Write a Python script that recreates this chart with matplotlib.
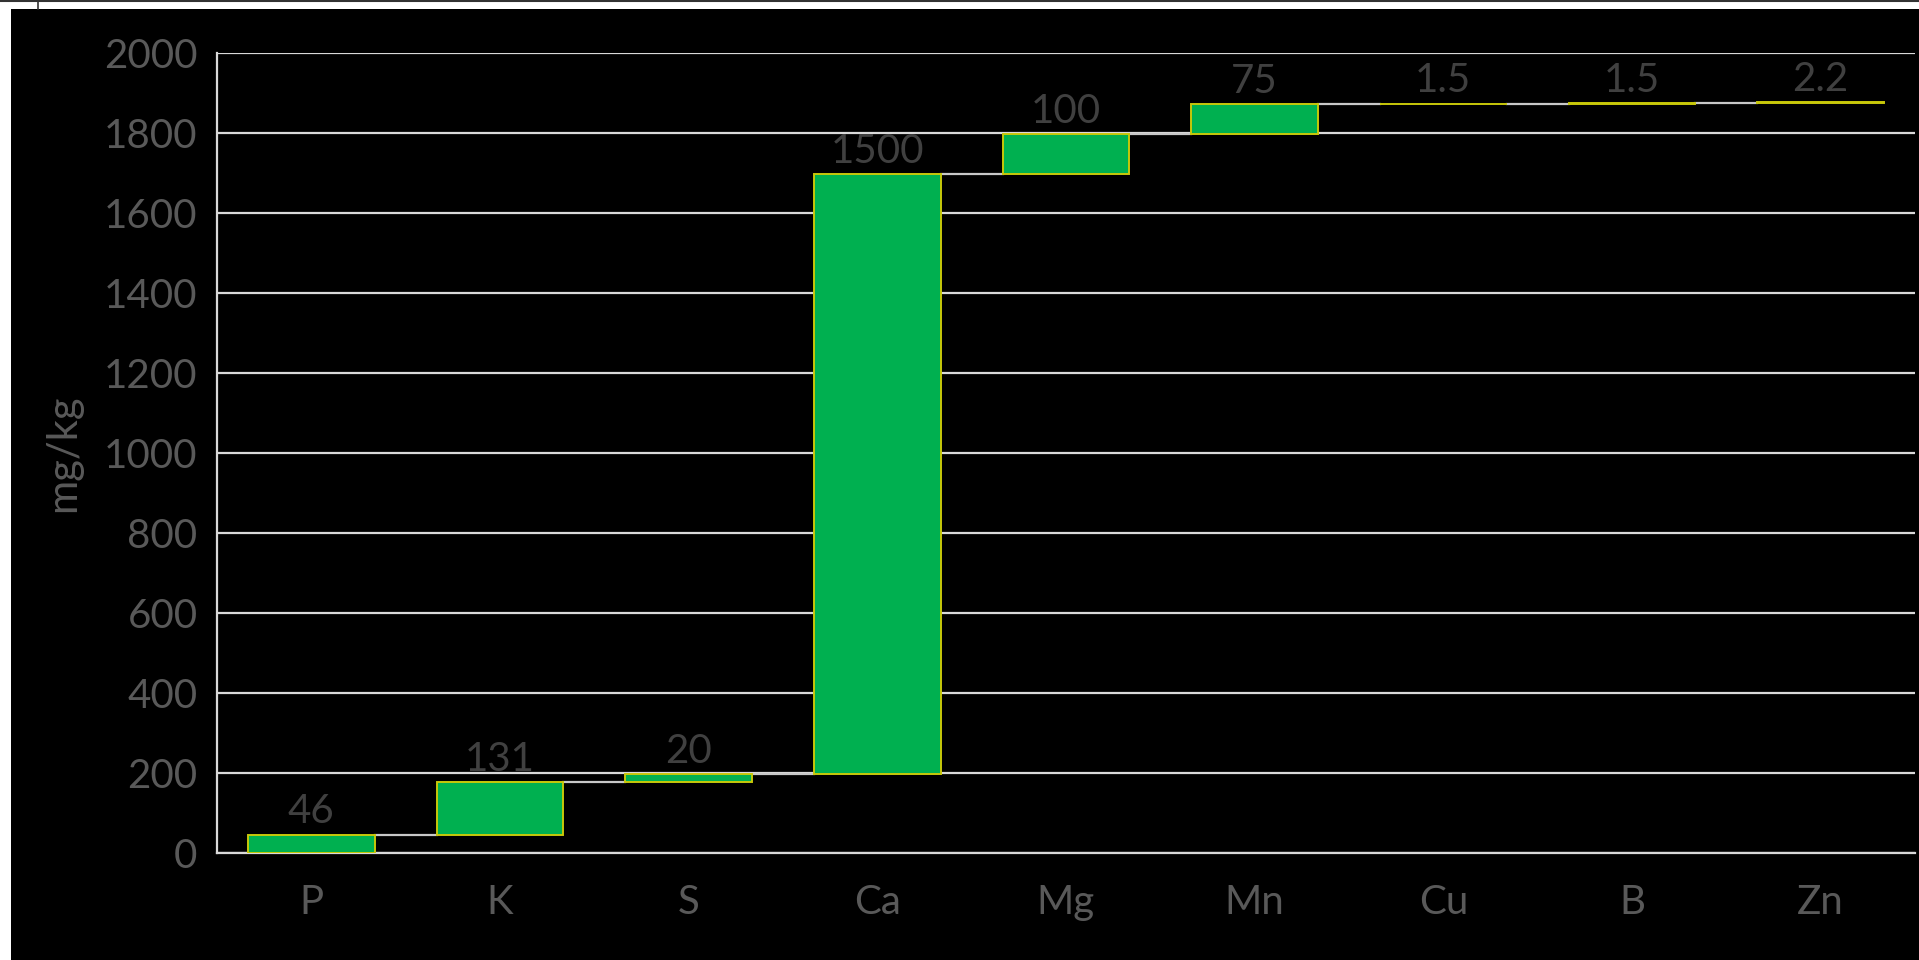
import matplotlib
matplotlib.use("Agg")
import numpy as np
import matplotlib.pyplot as plt
from matplotlib.patches import Rectangle
from matplotlib.lines import Line2D

nutrients = ["P", "K", "S", "Ca", "Mg", "Mn", "Cu", "B", "Zn"]
amounts = [46, 131, 20, 1500, 100, 75, 1.5, 1.5, 2.2]
amount_labels = ["46", "131", "20", "1500", "100", "75", "1.5", "1.5", "2.2"]
y_ticks = [0, 200, 400, 600, 800, 1000, 1200, 1400, 1600, 1800, 2000]

plt.rcParams["font.family"] = ["Lato", "DejaVu Sans"]

W, H = 1919, 960
fig = plt.figure(figsize=(W / 100, H / 100), dpi=100, facecolor="white")

# black panel with a thin frame line and a small mark along the top
fig.patches.append(Rectangle((11 / W, 0), 1 - 11 / W, 1 - 9 / H,
                             transform=fig.transFigure, facecolor="black",
                             edgecolor="none", zorder=-5))
fig.lines.append(Line2D([0, 1], [1 - 1 / H, 1 - 1 / H], transform=fig.transFigure,
                        color="#333333", lw=1.5, zorder=-4))
fig.lines.append(Line2D([38 / W, 38 / W], [1, 1 - 9 / H], transform=fig.transFigure,
                        color="#333333", lw=1.2, zorder=-4))

ax = fig.add_axes([217 / W, 1 - 853 / H, (1915 - 217) / W, (853 - 53) / H])
ax.set_facecolor("black")

x = np.arange(len(nutrients))
ends = np.cumsum(amounts)
starts = ends - np.array(amounts)
bar_w = 0.67

ax.set_axisbelow(True)
ax.yaxis.grid(True, color="#d9d9d9", lw=1.6)
ax.bar(x, amounts, bottom=starts, width=bar_w, color="#00b050",
       edgecolor="#c8c80a", linewidth=1.4, zorder=3)

# connectors between consecutive bars
for i in range(len(x) - 1):
    ax.plot([x[i] + bar_w / 2, x[i + 1] - bar_w / 2], [ends[i], ends[i]],
            color="#c8c8c8", lw=1.6, zorder=2)

for xi, top, lab in zip(x, ends, amount_labels):
    ax.annotate(lab, (xi, top), xytext=(0, 3), textcoords="offset points",
                ha="center", va="bottom", fontsize=29, color="#404040", zorder=4)

ax.set_xlim(-0.5, len(x) - 0.5)
ax.set_ylim(0, 2000)
ax.set_yticks(y_ticks)
ax.set_xticks(x)
ax.set_xticklabels(nutrients)
ax.tick_params(axis="both", length=0, labelsize=29, labelcolor="#595959")
ax.tick_params(axis="x", pad=22)
ax.tick_params(axis="y", pad=14)

for side in ["top", "right"]:
    ax.spines[side].set_visible(False)
for side in ["left", "bottom"]:
    ax.spines[side].set_color("#d9d9d9")
    ax.spines[side].set_linewidth(1.6)

ax.set_ylabel("mg/kg", fontsize=30, color="#595959")
ax.yaxis.set_label_coords(-135 / (1915 - 217), 0.5)

fig.savefig("out.png", dpi=100, facecolor="white")
